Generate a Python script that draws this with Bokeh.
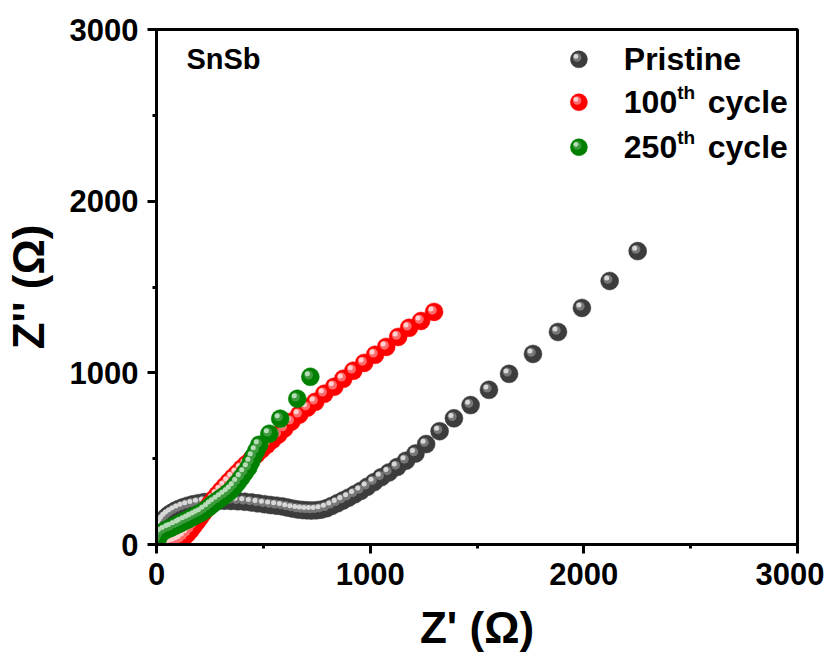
from bokeh.plotting import figure
from bokeh.models import FixedTicker, Range1d, ColumnDataSource
from bokeh.transform import dodge
from bokeh.core.properties import value
from bokeh.embed import file_html
from bokeh.resources import INLINE

# ---- data (Z' , Z'' in ohm) ----
pristine_re = [5, 7, 10, 14, 19, 26, 34, 44, 56, 70, 86, 104, 124, 146, 170, 196, 224, 254, 285, 317,
               349, 381, 413, 444, 475, 505, 534, 562, 589, 614, 638, 661, 683, 704, 725, 747, 770, 795,
               820, 846, 872, 899, 927, 956, 986, 1018, 1052, 1088, 1127, 1168, 1212, 1262, 1325, 1392,
               1470, 1556, 1650, 1762, 1879, 1991, 2121, 2252]
pristine_im = [40, 62, 82, 100, 116, 131, 145, 159, 172, 184, 196, 207, 217, 226, 234, 241, 247, 251, 254, 255,
               254, 252, 249, 245, 240, 235, 230, 226, 222, 215, 209, 204, 201, 199, 198, 199, 203, 211,
               225, 240, 256, 273, 292, 312, 336, 363, 392, 420, 452, 488, 530, 585, 660, 735,
               812, 901, 994, 1110, 1238, 1378, 1535, 1709]

c100_re = [55, 70, 85, 100, 115, 130, 145, 160, 175, 190, 205, 220, 236, 252, 268, 285, 302, 320, 338, 357,
           377, 398, 420, 443, 467, 491, 516, 542, 570, 598, 631, 668, 706, 743, 785, 832, 874, 921, 972,
           1023, 1075, 1131, 1182, 1238, 1299]
c100_im = [4, 8, 14, 21, 29, 45, 63, 85, 110, 135, 160, 185, 212, 240, 265, 290, 315, 340, 365, 390,
           415, 442, 468, 495, 523, 552, 580, 609, 640, 675, 715, 756, 797, 831, 878, 919, 965, 1012, 1058,
           1105, 1151, 1209, 1262, 1302, 1355]

c250_re = [5, 12, 23, 40, 58, 70, 88, 105, 117, 135, 150, 164, 180, 195, 210, 226, 243, 257, 271, 288,
           304, 320, 336, 350, 364, 380, 397, 413, 430, 442, 453, 467, 481, 528, 579, 659, 720]
c250_im = [30, 50, 70, 82, 93, 99, 110, 120, 128, 139, 148, 157, 167, 177, 186, 200, 215, 230, 244, 258,
           273, 287, 302, 318, 337, 362, 390, 418, 448, 480, 512, 546, 581, 645, 733, 849, 977]

series_names = ["Pristine", "100", "250"]
series_sup = ["", "th", "th"]
series_tail = ["", "cycle", "cycle"]
tick_values = [0, 1000, 2000, 3000]
minor_values = [500, 1500, 2500]

FONT = "Liberation Sans"

p = figure(width=824, height=654, output_backend="svg", toolbar_location=None,
           x_range=Range1d(0, 3000), y_range=Range1d(0, 3000),
           min_border_left=155, min_border_right=27, min_border_top=29, min_border_bottom=101)
p.grid.visible = False
p.background_fill_color = "white"
p.border_fill_color = "white"
p.outline_line_color = "black"
p.outline_line_width = 3

for ax in (p.xaxis[0], p.yaxis[0]):
    ax.ticker = FixedTicker(ticks=tick_values, minor_ticks=minor_values)
    ax.axis_line_width = 3
    ax.major_tick_line_width = 3
    ax.minor_tick_line_width = 3
    ax.major_tick_out = 9
    ax.major_tick_in = 0
    ax.minor_tick_out = 4
    ax.minor_tick_in = 0
    ax.major_label_text_font = FONT
    ax.major_label_text_font_style = "bold"
    ax.major_label_text_font_size = "31px"
    ax.major_label_text_color = "black"
    ax.axis_label_text_font = FONT
    ax.axis_label_text_font_style = "bold"
    ax.axis_label_text_font_size = "44px"
    ax.axis_label_text_color = "black"
    ax.major_label_standoff = 9

p.xaxis.axis_label = "Z' (\u03a9)"
p.yaxis.axis_label = "Z'' (\u03a9)"
p.xaxis.axis_label_standoff = 15
p.yaxis.axis_label_standoff = 14

DX = -14
DY = 17


def beads(xs, ys, base, mid, hi, size=18):
    src = ColumnDataSource(dict(x=xs, y=ys))
    p.scatter("x", "y", source=src, size=size, fill_color=base, line_color=base, line_width=0.5)
    p.scatter(dodge("x", DX * 0.6, range=p.x_range), dodge("y", DY * 0.6, range=p.y_range),
              source=src, size=size * 0.5, fill_color=mid, line_color=None)
    p.scatter(dodge("x", DX, range=p.x_range), dodge("y", DY, range=p.y_range),
              source=src, size=size * 0.28, fill_color=hi, line_color=None)


colors = [("#3c3c3c", "#777777", "#d8d8d8"),
          ("#ff0000", "#ff6a6a", "#ffd0d0"),
          ("#008000", "#3d9a3d", "#b8dcb8")]

beads(pristine_re, pristine_im, *colors[0])
beads(c100_re, c100_im, *colors[1])
beads(c250_re, c250_im, *colors[2])

# ---- legend (manual, to allow superscripts) ----
leg_x = 1977
leg_rows = [2826, 2576, 2314]
text_x = 2187
for i in range(3):
    beads([leg_x], [leg_rows[i]], *colors[i], size=17)
    p.text(x=[text_x], y=[leg_rows[i]], text=[series_names[i]], text_font=value(FONT),
           text_font_style="bold", text_font_size="32px", text_baseline="middle", text_align="left",
           text_color="black")
    if series_sup[i]:
        p.text(x=[text_x + 250], y=[leg_rows[i] + 58], text=[series_sup[i]], text_font=value(FONT),
               text_font_style="bold", text_font_size="19px", text_baseline="middle", text_align="left",
               text_color="black")
        p.text(x=[text_x + 393], y=[leg_rows[i]], text=[series_tail[i]], text_font=value(FONT),
               text_font_style="bold", text_font_size="32px", text_baseline="middle", text_align="left",
               text_color="black")

p.text(x=[140], y=[2831], text=["SnSb"], text_font=value(FONT), text_font_style="bold",
       text_font_size="29px", text_baseline="middle", text_align="left", text_color="black")

open("out.html", "w").write(file_html(p, INLINE))
